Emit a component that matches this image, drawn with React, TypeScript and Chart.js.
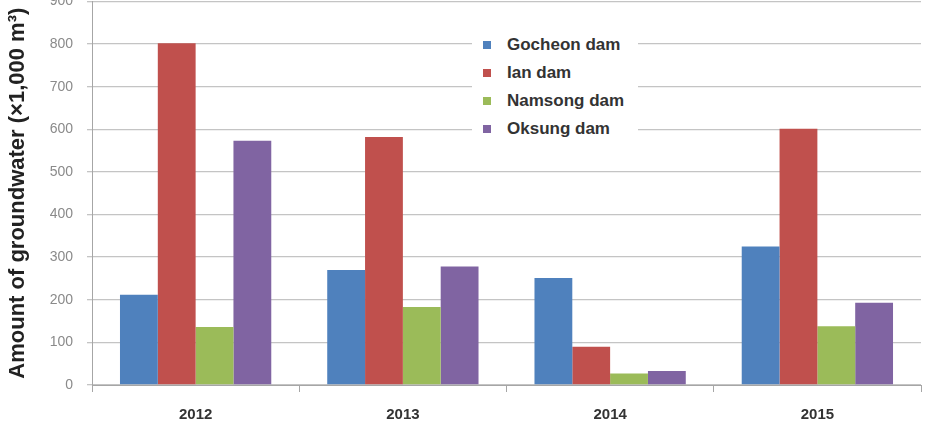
import React, { useEffect, useRef } from "react";
import { Chart, registerables } from "chart.js";

Chart.register(...registerables);

const years = ["2012", "2013", "2014", "2015"];
const seriesNames = ["Gocheon dam", "Ian dam", "Namsong dam", "Oksung dam"];
const gocheon = [212, 270, 251, 325];
const ian = [802, 582, 90, 601];
const namsong = [136, 183, 27, 138];
const oksung = [573, 278, 33, 193];
const colors = ["#4F81BD", "#C0504D", "#9BBB59", "#8064A2"];
const yTicks = [0, 100, 200, 300, 400, 500, 600, 700, 800, 900];
const yTitle = "Amount of groundwater (×1,000 m³)";

function makeConfig(): any {
  const values = [gocheon, ian, namsong, oksung];
  return {
    type: "bar",
    data: {
      labels: years,
      datasets: seriesNames.map((name, i) => ({
        label: name,
        data: values[i],
        backgroundColor: colors[i],
        borderWidth: 0,
        barPercentage: 1,
        categoryPercentage: 0.73,
      })),
    },
    options: {
      animation: false,
      responsive: false,
      maintainAspectRatio: false,
      layout: { padding: { left: 0, top: 0, right: 9, bottom: 0 } },
      plugins: {
        legend: { display: false },
        tooltip: { enabled: false },
      },
      scales: {
        x: {
          offset: true,
          grid: {
            offset: true,
            drawOnChartArea: false,
            drawTicks: true,
            tickLength: 7,
            color: "#a6a6a6",
          },
          border: { color: "#a6a6a6", width: 1 },
          ticks: {
            padding: 14,
            color: "#333333",
            font: { family: "'Liberation Sans', Arial", size: 15, weight: "bold" },
          },
          afterFit: (s: any) => {
            s.height = 38;
          },
        },
        y: {
          min: 0,
          max: 900,
          afterBuildTicks: (s: any) => {
            s.ticks = yTicks.map((v) => ({ value: v }));
          },
          grid: {
            color: "#c4c4c4",
            lineWidth: 1.3,
            tickLength: 5,
          },
          border: { color: "#a6a6a6", width: 1 },
          ticks: {
            padding: 14,
            color: "#8a8a8a",
            font: { family: "'Liberation Sans', Arial", size: 14 },
          },
          title: {
            display: true,
            text: yTitle,
            color: "#222222",
            font: { family: "'Liberation Sans', Arial", size: 22, weight: "bold" },
            padding: { top: 5, bottom: 0 },
          },
          afterFit: (s: any) => {
            s.width = 92;
          },
        },
      },
    },
  };
}

export default function App() {
  const ref = useRef<HTMLCanvasElement | null>(null);

  useEffect(() => {
    document.body.style.margin = "0";
    const canvas = ref.current!;
    canvas.width = 930;
    canvas.height = 423;
    let chart = new Chart(canvas, makeConfig());
    const off = Math.round(chart.chartArea.top) - 1;
    if (off > 0) {
      chart.destroy();
      canvas.width = 930;
      canvas.height = 423 + off;
      canvas.style.width = "930px";
      canvas.style.height = 423 + off + "px";
      canvas.style.marginTop = -off + "px";
      chart = new Chart(canvas, makeConfig());
    }
    return () => chart.destroy();
  }, []);

  return (
    <div style={{ position: "relative", width: 930, height: 423, background: "#fff", overflow: "hidden" }}>
      <canvas ref={ref} width={930} height={423} style={{ display: "block" }} />
      <div
        style={{
          position: "absolute",
          left: 472,
          top: 30,
          width: 166,
          height: 116,
          background: "#fff",
          boxSizing: "border-box",
          paddingTop: 1,
          paddingLeft: 11,
          fontFamily: "'Liberation Sans', Arial, sans-serif",
          fontWeight: "bold",
          fontSize: 17,
          color: "#333",
        }}
      >
        {seriesNames.map((n, i) => (
          <div key={n} style={{ display: "flex", alignItems: "center", height: 28 }}>
            <span
              style={{
                display: "inline-block",
                width: 8,
                height: 8,
                background: colors[i],
                marginRight: 16,
                flex: "none",
              }}
            />
            <span>{n}</span>
          </div>
        ))}
      </div>
    </div>
  );
}
